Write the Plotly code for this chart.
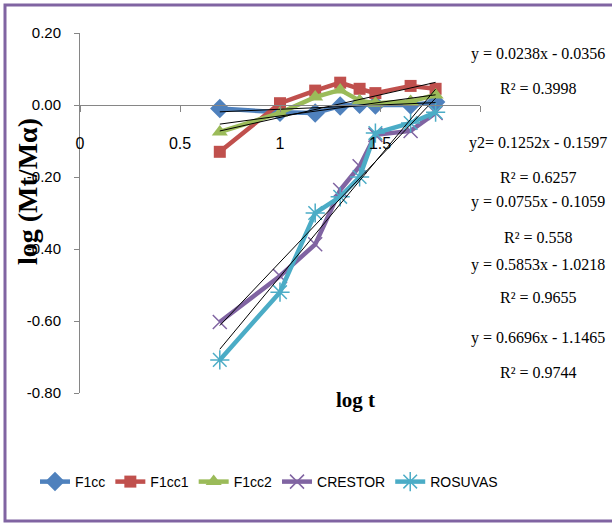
import plotly.graph_objects as go

# ---------------- data ----------------
log_t = [0.699, 1.0, 1.176, 1.301, 1.398, 1.477, 1.653, 1.778]

series_names = ["F1cc", "F1cc1", "F1cc2", "CRESTOR", "ROSUVAS"]
F1cc = [-0.010, -0.020, -0.022, -0.003, 0.002, 0.000, 0.000, 0.008]
F1cc1 = [-0.130, 0.005, 0.040, 0.062, 0.045, 0.033, 0.053, 0.045]
F1cc2 = [-0.075, -0.022, 0.022, 0.042, 0.012, 0.005, 0.010, 0.028]
CRESTOR = [-0.603, -0.475, -0.387, -0.236, -0.170, -0.083, -0.072, -0.022]
ROSUVAS = [-0.708, -0.520, -0.300, -0.255, -0.200, -0.078, -0.050, -0.020]
series_values = [F1cc, F1cc1, F1cc2, CRESTOR, ROSUVAS]

# trendline coefficients (as printed on the chart)
slopes = [0.0238, 0.1252, 0.0755, 0.5853, 0.6696]
intercepts = [-0.0356, -0.1597, -0.1059, -1.0218, -1.1465]
r_squared = ["0.3998", "0.6257", "0.558", "0.9655", "0.9744"]
eq_prefix = ["y", "y2", "y", "y", "y"]

x_tickvals = [0, 0.5, 1, 1.5, 2]
x_ticktext = ["0", "0.5", "1", "1.5", ""]
y_tickvals = [0.2, 0.0, -0.2, -0.4, -0.6, -0.8]
y_ticktext = ["0.20", "0.00", "-0.20", "-0.40", "-0.60", "-0.80"]

# ---------------- styles ----------------
colors = ["#4F81BD", "#C0504D", "#9BBB59", "#8064A2", "#4BACC6"]
symbols = ["diamond", "square", "triangle-up", "x-thin-open", "asterisk-open"]
msizes = [15, 12, 14, 14, 16]

SANS = "Liberation Sans Narrow, Liberation Sans, Arial, sans-serif"
SERIF = "Liberation Serif, Times New Roman, serif"

fig = go.Figure()

for name, vals, c, s, ms in zip(series_names, series_values, colors, symbols, msizes):
    open_marker = s.endswith("-open")
    fig.add_trace(go.Scatter(
        x=log_t, y=vals, name=name, mode="lines+markers",
        line=dict(color=c, width=4.5),
        marker=dict(symbol=s, size=ms, color=c,
                    line=dict(color=c, width=1.5 if open_marker else 0)),
    ))

# linear trendlines
x0, x1 = min(log_t), max(log_t)
for m, b in zip(slopes, intercepts):
    fig.add_trace(go.Scatter(
        x=[x0, x1], y=[m * x0 + b, m * x1 + b], mode="lines",
        line=dict(color="black", width=1), showlegend=False, hoverinfo="skip",
    ))

# equation labels (paper coords; plot area is 400x360 px)
eq_y = [0.9417, 0.6944, 0.5306, 0.3556, 0.1528]
r2_y = [0.8472, 0.6000, 0.4333, 0.2639, 0.0583]
for pre, m, b, r2, ye, yr in zip(eq_prefix, slopes, intercepts, r_squared, eq_y, r2_y):
    sep = "= " if pre == "y2" else " = "
    eq = f"{pre}{sep}{m}x - {abs(b)}"
    fig.add_annotation(x=1.145, y=ye, xref="paper", yref="paper", text=eq, showarrow=False,
                       xanchor="center", yanchor="middle",
                       font=dict(family=SERIF, size=16, color="black"))
    fig.add_annotation(x=1.145, y=yr, xref="paper", yref="paper", text=f"R² = {r2}",
                       showarrow=False, xanchor="center", yanchor="middle",
                       font=dict(family=SERIF, size=16, color="black"))

# axis titles
fig.add_annotation(x=0.6875, y=-0.0194, xref="paper", yref="paper", text="<b>log t</b>",
                   showarrow=False, xanchor="center", yanchor="middle",
                   font=dict(family=SERIF, size=21, color="black"))
fig.add_annotation(x=-0.1325, y=(393 - 192) / 360, xref="paper", yref="paper",
                   text="<b>log (Mt/Mα)</b>",
                   textangle=-90, showarrow=False, xanchor="center", yanchor="middle",
                   font=dict(family=SERIF, size=28, color="black"))

# outer purple border
fig.add_shape(type="rect", xref="paper", yref="paper",
              x0=(5 - 80) / 400, x1=(616 - 80) / 400,
              y0=(393 - 521) / 360, y1=(393 - 5) / 360,
              line=dict(color="#8064A2", width=3), fillcolor="rgba(0,0,0,0)", layer="below")

fig.update_layout(
    width=612, height=524,
    margin=dict(l=80, r=132, t=33, b=131),
    paper_bgcolor="white", plot_bgcolor="white",
    showlegend=True,
    legend=dict(orientation="h", x=(503 - 80) / 400, xanchor="right",
                y=(393 - 482) / 360, yanchor="middle",
                font=dict(family=SANS, size=14, color="black"),
                bgcolor="rgba(0,0,0,0)", itemwidth=30, tracegroupgap=0),
    xaxis=dict(range=[0, 2], tickvals=x_tickvals, ticktext=x_ticktext,
               showgrid=False, zeroline=False, showline=True, linecolor="#868686", linewidth=1,
               ticks="outside", ticklen=6, tickcolor="#868686",
               anchor="free", position=0.8, ticklabelstandoff=18,
               tickfont=dict(family=SANS, size=16, color="black")),
    yaxis=dict(range=[-0.8, 0.2], tickvals=y_tickvals, ticktext=y_ticktext,
               showgrid=False, zeroline=False, showline=True, linecolor="#868686", linewidth=1,
               ticks="outside", ticklen=5, tickcolor="#868686", ticklabelstandoff=10,
               tickfont=dict(family=SANS, size=15, color="black")),
)

fig.write_html("out.html")
